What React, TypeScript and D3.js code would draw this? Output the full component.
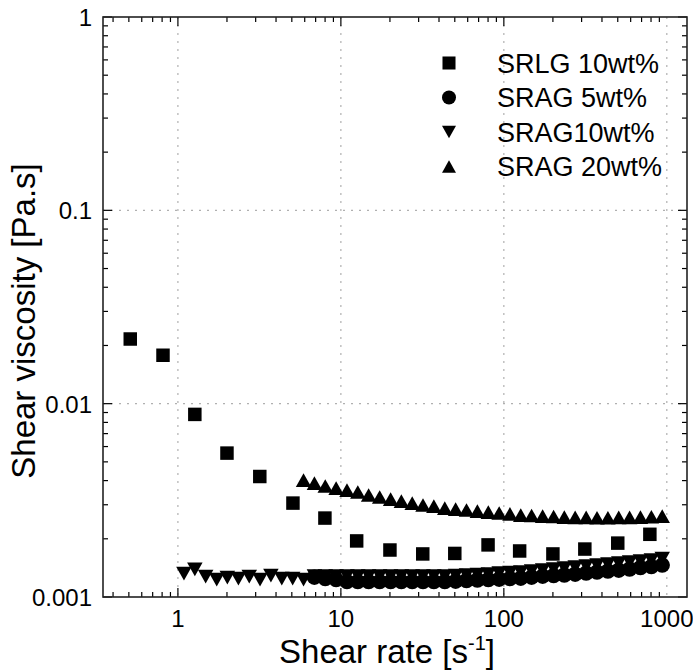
import React from 'react';
import * as d3 from 'd3';

// SRLG 10wt% (squares)
const srlgX = [0.51, 0.81, 1.27, 2.0, 3.18, 5.08, 7.98, 12.5, 20, 31.8, 50, 80, 125, 200, 314, 500, 787];
const srlgY = [0.0216, 0.0178, 0.0088, 0.00555, 0.0042, 0.00306, 0.00256, 0.00195, 0.00175, 0.00167, 0.00168, 0.00186, 0.00173, 0.00167, 0.00177, 0.0019, 0.00211];

// shear rates of the dense sweeps
const rateX = [1.089, 1.27, 1.48, 1.73, 2.01, 2.35, 2.74, 3.19, 3.72, 4.34, 5.06, 5.9, 6.88, 8.02, 9.35, 10.9, 12.7, 14.8, 17.3, 20.2, 23.5, 27.4, 31.9, 37.2, 43.4, 50.6, 59.0, 68.8, 80.3, 93.6, 109, 127, 148, 173, 202, 235, 274, 320, 373, 435, 507, 591, 689, 804, 937];

// SRAG 10wt% (down triangles), all of rateX
const rag10Y = [0.00132, 0.00139, 0.001275, 0.00123, 0.00126, 0.001245, 0.001275, 0.00123, 0.00129, 0.001245, 0.001245, 0.00123,
  0.001282, 0.001282, 0.001282, 0.001282, 0.001282, 0.001282, 0.001282, 0.001282, 0.001282, 0.001282, 0.001282, 0.001282, 0.001282,
  0.00129, 0.001298, 0.001305, 0.001313, 0.001329, 0.001337, 0.001345, 0.001361, 0.001377, 0.001394, 0.001411, 0.001428, 0.001445,
  0.001462, 0.00148, 0.001497, 0.001515, 0.001533, 0.001552, 0.00158];

// SRAG 5wt% (circles), from rateX[12]
const rag5X = rateX.slice(12);
const rag5Y = [0.001267, 0.001245, 0.00123, 0.001201, 0.001201, 0.001201, 0.001201, 0.001201, 0.001201, 0.001201, 0.001201, 0.001201,
  0.001201, 0.001208, 0.001216, 0.001223, 0.00123, 0.001237, 0.001245, 0.001252, 0.001267, 0.001282, 0.00129, 0.001298, 0.001313,
  0.001329, 0.001345, 0.001361, 0.001377, 0.001394, 0.001419, 0.001436, 0.001462];

// SRAG 20wt% (up triangles), from rateX[11]
const rag20X = rateX.slice(11);
const rag20Y = [0.00402, 0.00388, 0.00375, 0.00366, 0.00357, 0.00349, 0.00337, 0.00329, 0.00321, 0.00313, 0.00306, 0.00299, 0.00295,
  0.00288, 0.00285, 0.00282, 0.00278, 0.00275, 0.00272, 0.00269, 0.00265, 0.00264, 0.00262, 0.00261, 0.00259, 0.00258, 0.00258,
  0.00257, 0.00257, 0.00258, 0.00258, 0.00259, 0.0026, 0.00262];

const xTicks = [1, 10, 100, 1000];
const xTickLabels = ['1', '10', '100', '1000'];
const yTicks = [0.001, 0.01, 0.1, 1];
const yTickLabels = ['0.001', '0.01', '0.1', '1'];
const legendNames = ['SRLG 10wt%', 'SRAG 5wt%', 'SRAG10wt%', 'SRAG 20wt%'];

const W = 693, H = 672;
const left = 103, right = 687, top = 17, bottom = 597;
const font = '"Liberation Sans", Arial, sans-serif';

function Marker({ kind, x, y, s }: { kind: string; x: number; y: number; s: number }) {
  const h = s / 2;
  if (kind === 'square') return <rect x={x - h * 0.93} y={y - h * 0.93} width={s * 0.93} height={s * 0.93} fill="#000" />;
  if (kind === 'circle') return <circle cx={x} cy={y} r={h} fill="#000" />;
  if (kind === 'down')
    return <path d={`M${x - h},${y - h * 0.88}L${x + h},${y - h * 0.88}L${x},${y + h * 0.88}Z`} fill="#000" />;
  return <path d={`M${x - h},${y + h * 0.88}L${x + h},${y + h * 0.88}L${x},${y - h * 0.88}Z`} fill="#000" />;
}

export default function App() {
  const x = d3.scaleLog().domain([0.347, 1330]).range([left, right]);
  const y = d3.scaleLog().domain([0.001, 1]).range([bottom, top]);

  const minorX: number[] = [];
  for (let d = 0.1; d < 1000; d *= 10)
    for (let m = 1; m < 10; m++) {
      const v = d * m;
      if (v >= 0.347 && v <= 1330) minorX.push(v);
    }
  const minorY: number[] = [];
  for (let d = 0.001; d < 1; d *= 10)
    for (let m = 2; m < 10; m++) minorY.push(d * m);

  const isMajor = (v: number) => Math.abs(Math.log10(v) - Math.round(Math.log10(v))) < 1e-6;

  const series = [
    { kind: 'square', xs: srlgX, ys: srlgY, s: 14.5 },
    { kind: 'circle', xs: rag5X, ys: rag5Y, s: 15.5 },
    { kind: 'down', xs: rateX, ys: rag10Y, s: 15.5 },
    { kind: 'up', xs: rag20X, ys: rag20Y, s: 15.5 },
  ];

  return (
    <svg width={W} height={H} style={{ position: 'absolute', left: 0, top: 0, background: '#fff' }} fontFamily={font}>
      {/* grid */}
      {xTicks.map((t) => (
        <line key={'gx' + t} x1={x(t)} x2={x(t)} y1={top} y2={bottom} stroke="#b0b0b0" strokeWidth={1.2} strokeDasharray="2,6" />
      ))}
      {[0.01, 0.1].map((t) => (
        <line key={'gy' + t} x1={left} x2={right} y1={y(t)} y2={y(t)} stroke="#b0b0b0" strokeWidth={1.2} strokeDasharray="2,6" />
      ))}

      {/* ticks, inward on all sides */}
      {minorX.map((t, i) => {
        const len = isMajor(t) ? 9 : 5;
        return (
          <g key={'tx' + i} stroke="#000" strokeWidth={1.2}>
            <line x1={x(t)} x2={x(t)} y1={bottom} y2={bottom - len} />
            <line x1={x(t)} x2={x(t)} y1={top} y2={top + len} />
          </g>
        );
      })}
      {minorY.concat(yTicks).map((t, i) => {
        const len = isMajor(t) ? 9 : 5;
        return (
          <g key={'ty' + i} stroke="#000" strokeWidth={1.2}>
            <line x1={left} x2={left + len} y1={y(t)} y2={y(t)} />
            <line x1={right} x2={right - len} y1={y(t)} y2={y(t)} />
          </g>
        );
      })}
      <rect x={left} y={top} width={right - left} height={bottom - top} fill="none" stroke="#222" strokeWidth={1.6} />

      {/* data */}
      {series.map((sr) =>
        sr.xs.map((v, i) => <Marker key={sr.kind + i} kind={sr.kind} x={x(v)} y={y(sr.ys[i])} s={sr.s} />)
      )}

      {/* tick labels */}
      {xTicks.map((t, i) => (
        <text key={'lx' + t} x={x(t)} y={627} textAnchor="middle" fontSize={24}>{xTickLabels[i]}</text>
      ))}
      {yTicks.map((t, i) => (
        <text key={'ly' + t} x={92} y={y(t) + 9} textAnchor="end" fontSize={24}>{yTickLabels[i]}</text>
      ))}

      {/* axis titles */}
      <text x={(left + right) / 2 - 8} y={663} textAnchor="middle" fontSize={33}>
        Shear rate [s<tspan fontSize={20} dy={-13}>-1</tspan><tspan dy={13}>]</tspan>
      </text>
      <text transform={`translate(35,${(top + bottom) / 2 + 14}) rotate(-90)`} textAnchor="middle" fontSize={33}>
        Shear viscosity [Pa.s]
      </text>

      {/* legend */}
      {legendNames.map((n, i) => {
        const ly = 63 + i * 34.5;
        return (
          <g key={n}>
            <Marker kind={series[i].kind} x={449} y={ly} s={14} />
            <text x={497} y={ly + 9.5} fontSize={27}>{n}</text>
          </g>
        );
      })}
    </svg>
  );
}
